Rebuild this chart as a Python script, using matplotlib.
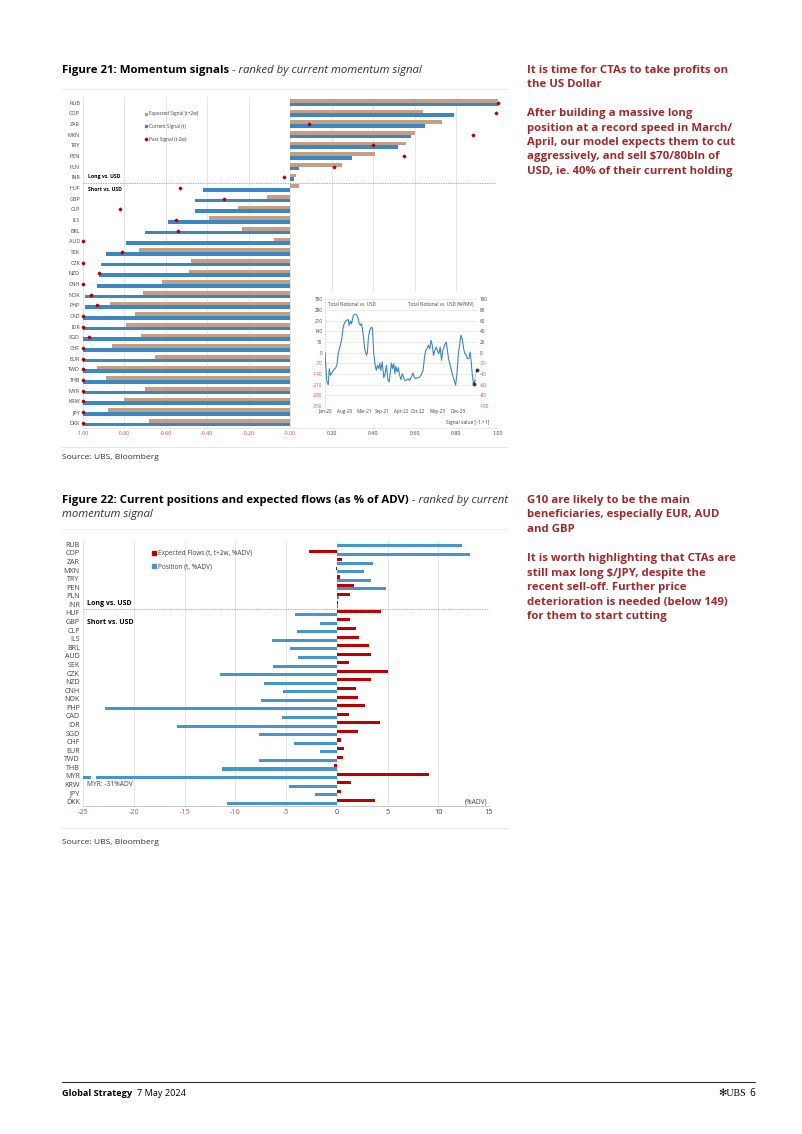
import numpy as np
import pandas as pd
import matplotlib
matplotlib.use("Agg")
import matplotlib.pyplot as plt
from matplotlib.lines import Line2D

plt.rcParams['font.family'] = ['Open Sans', 'DejaVu Sans']

W, H = 802, 1134

# ---------------- data ----------------
currencies = ['RUB', 'COP', 'ZAR', 'MXN', 'TRY', 'PEN', 'PLN', 'INR', 'HUF', 'GBP', 'CLP', 'ILS',
              'BRL', 'AUD', 'SEK', 'CZK', 'NZD', 'CNH', 'NOK', 'PHP', 'CAD', 'IDR', 'SGD', 'CHF',
              'EUR', 'TWD', 'THB', 'MYR', 'KRW', 'JPY', 'DKK']

# Figure 21: momentum signals
expected_signal = [1.00, 0.64, 0.73, 0.60, 0.56, 0.41, 0.25, 0.03, 0.04, -0.11, -0.25, -0.39,
                   -0.23, -0.08, -0.73, -0.48, -0.49, -0.62, -0.71, -0.87, -0.75, -0.79, -0.72, -0.86,
                   -0.65, -0.93, -0.89, -0.70, -0.80, -0.88, -0.68]
current_signal = [1.00, 0.79, 0.65, 0.58, 0.52, 0.30, 0.04, 0.02, -0.42, -0.46, -0.46, -0.59,
                  -0.70, -0.79, -0.89, -0.91, -0.92, -0.93, -0.99, -0.99, -1.00, -1.00, -1.00, -1.00,
                  -1.00, -1.00, -1.00, -1.00, -1.00, -1.00, -1.00]
past_signal = [1.00, 0.99, 0.09, 0.88, 0.40, 0.55, 0.21, -0.03, -0.53, -0.32, -0.82, -0.55,
               -0.54, -1.00, -0.81, -1.00, -0.92, -1.00, -0.96, -0.93, -1.00, -1.00, -0.97, -1.00,
               -1.00, -1.00, -1.00, -1.00, -1.00, -1.00, -1.00]

# inset: total notional vs USD
notional_dates = ['2020-01-01', '2020-01-19', '2020-02-05', '2020-02-16', '2020-03-01', '2020-03-30',
                  '2020-04-27', '2020-05-11', '2020-05-22', '2020-06-09', '2020-06-27', '2020-07-15',
                  '2020-08-02', '2020-08-20', '2020-09-07', '2020-09-18', '2020-10-02', '2020-10-13',
                  '2020-11-01', '2020-11-19', '2020-12-07', '2020-12-24', '2021-01-04', '2021-01-18',
                  '2021-01-29', '2021-02-16', '2021-03-04', '2021-03-22', '2021-04-02', '2021-04-13',
                  '2021-04-27', '2021-05-15', '2021-05-26', '2021-06-09', '2021-06-27', '2021-07-08',
                  '2021-07-18', '2021-08-02', '2021-08-13', '2021-08-24', '2021-09-08', '2021-09-25',
                  '2021-10-09', '2021-10-24', '2021-11-08', '2021-11-22', '2021-12-02', '2021-12-17',
                  '2021-12-28', '2022-01-11', '2022-01-22', '2022-02-02', '2022-02-16', '2022-03-01',
                  '2022-03-15', '2022-03-29', '2022-04-13', '2022-04-27', '2022-05-11', '2022-05-25',
                  '2022-06-13', '2022-07-01', '2022-07-19', '2022-08-06', '2022-08-20', '2022-09-04',
                  '2022-09-18', '2022-10-09', '2022-10-24', '2022-11-08', '2022-11-22', '2022-12-06',
                  '2022-12-20', '2023-01-04', '2023-01-18', '2023-02-02', '2023-02-16', '2023-03-01',
                  '2023-03-15', '2023-03-29', '2023-04-13', '2023-04-27', '2023-05-11', '2023-05-25',
                  '2023-06-09', '2023-06-23', '2023-07-11', '2023-07-29', '2023-08-09', '2023-08-23',
                  '2023-09-11', '2023-10-02', '2023-10-24', '2023-11-08', '2023-11-22', '2023-12-06',
                  '2023-12-20', '2024-01-04', '2024-01-18', '2024-02-02', '2024-02-16', '2024-03-01',
                  '2024-03-15', '2024-03-29', '2024-04-12', '2024-04-23', '2024-05-04', '2024-05-18',
                  '2024-05-29', '2024-06-09']
notional_usd = [0, -182, -210, -105, -149, -116, -98, -72, -7, 37, 81, 168,
                201, 212, 217, 179, 208, 190, 245, 252, 247, 223, 190, 179,
                190, 114, 26, -18, 4, 103, 147, 168, 157, -7, -94, -116,
                -83, -105, -68, -116, -61, -164, -138, -83, -177, -192, -138, -68,
                -105, -72, -138, -90, -127, -98, -149, -177, -138, -164, -182, -182,
                -171, -182, -160, -133, -164, -171, -164, -164, -155, -138, -116, -39,
                15, 26, 48, 26, 81, 48, -18, 15, 37, 11, -7, 37,
                -50, 15, 48, 70, 26, -39, -83, -138, -182, -214, -138, -18,
                48, 114, 92, 26, -7, -18, -39, -39, 4, -50, -138, -208,
                -192, -182]
proj_dates = ['2024-05-20', '2024-06-22']
proj_usd = [-205, -116]
inset_ticks = ['2020-01-01', '2020-08-01', '2021-03-01', '2021-09-01', '2022-04-01',
               '2022-10-01', '2023-05-01', '2023-12-01']
inset_tick_labels = ['Jan-20', 'Aug-20', 'Mar-21', 'Sep-21', 'Apr-22', 'Oct-22', 'May-23', 'Dec-23']

# Figure 22: positions and expected flows (% ADV)
expected_flows = [0.0, -2.7, 0.5, -0.1, 0.3, 1.7, 1.3, 0.1, 4.4, 1.3, 1.9, 2.2, 3.2, 3.4, 1.2, 5.0,
                  3.4, 1.9, 2.1, 2.8, 1.2, 4.3, 2.1, 0.4, 0.7, 0.6, -0.3, 9.1, 1.4, 0.4, 3.8]
position = [12.3, 13.1, 3.6, 2.7, 3.4, 4.8, 0.2, 0.1, -4.1, -1.7, -3.9, -6.4, -4.6, -3.8, -6.3, -11.5,
            -7.2, -5.3, -7.5, -22.9, -5.4, -15.8, -7.7, -4.2, -1.7, -7.7, -11.3, -31.0, -4.7, -2.2, -10.8]

# ---------------- styles ----------------
TAN = '#c49f83'
BLUE = '#3a87c6'
BLUE2 = '#4596cf'
RED = '#c00000'
NEG = '#e0474c'
TXT = '#404040'
GRID = '#dcdcdc'
DARKRED = '#a3282c'


def box(l, t, r, b):
    return [l / W, 1 - b / H, (r - l) / W, (b - t) / H]


def fy(y):
    return 1 - y / H


def color_ticks(labels, values):
    for lbl, v in zip(labels, values):
        lbl.set_color(NEG if v < 0 else TXT)


fig = plt.figure(figsize=(W / 100, H / 100), dpi=100)
fig.patch.set_facecolor('white')
renderer = fig.canvas.get_renderer()


def text_after(first, gap_px, s, **kw):
    # put a second text right after the first one on the same line
    bb = first.get_window_extent(renderer)
    return fig.text((bb.x1 + gap_px) / W, first.get_position()[1], s, **kw)


n = len(currencies)
y = np.arange(n)

# ---------------- Figure 21 ----------------
t21 = fig.text(62 / W, fy(71), 'Figure 21: Momentum signals', fontsize=8.2, weight='bold',
               va='center')
text_after(t21, 3, '- ranked by current momentum signal', fontsize=8.2, style='italic',
           color='#333333', va='center')
fig.add_artist(Line2D([62 / W, 507 / W], [fy(89), fy(89)], color='#e6e6e6', lw=0.6))

ax = fig.add_axes(box(82.7, 97.3, 497.7, 428))
ax.barh(y - 0.17, expected_signal, height=0.34, color=TAN, zorder=2)
ax.barh(y + 0.17, current_signal, height=0.34, color=BLUE, zorder=2)
ax.plot(past_signal, y, 'D', color='#b00000', ms=1.4, ls='none', clip_on=False, zorder=4)
ax.set_xlim(-1, 1)
ax.set_ylim(n - 0.5, -0.5)
xt = np.arange(-1.0, 1.01, 0.2)
ax.set_xticks(xt)
ax.set_xticklabels(['{:.2f}'.format(v) for v in xt], fontsize=3.9)
color_ticks(ax.get_xticklabels(), xt)
ax.set_yticks(y)
ax.set_yticklabels(currencies, fontsize=3.9, color=TXT)
ax.tick_params(length=0, pad=2)
ax.grid(axis='x', color=GRID, lw=0.5, zorder=0)
for s in ['top', 'right', 'left']:
    ax.spines[s].set_visible(False)
ax.spines['bottom'].set_color(GRID)
ax.spines['bottom'].set_linewidth(0.5)
ax.axhline(7.5, xmax=0.995, color='#8c8c8c', lw=0.5, ls=(0, (2, 1.5)), zorder=3)
ax.text(0.012, 7.5 - 0.35, 'Long vs. USD', transform=ax.get_yaxis_transform(), fontsize=3.7,
        weight='bold', va='bottom')
ax.text(0.012, 8.1, 'Short vs. USD', transform=ax.get_yaxis_transform(), fontsize=3.7,
        weight='bold', va='center')
handles = [Line2D([], [], marker='s', color=TAN, ls='none', ms=1.8),
           Line2D([], [], marker='s', color=BLUE, ls='none', ms=1.8),
           Line2D([], [], marker='D', color='#b00000', ls='none', ms=1.4)]
ax.legend(handles, ['Expected Signal (t+2w)', 'Current Signal (t)', 'Past Signal (t-2w)'],
          loc='upper left', bbox_to_anchor=(0.14, 0.97), frameon=False, fontsize=3.4,
          handlelength=0.6, handletextpad=0.3, labelspacing=1.6, labelcolor=TXT)

# inset panel
bg = fig.add_axes(box(297, 292, 495, 428))
bg.set_facecolor('white')
bg.set_xticks([])
bg.set_yticks([])
for s in bg.spines.values():
    s.set_visible(False)
bg.text(0.97, 0.04, 'Signal value [-1,+1]', transform=bg.transAxes, fontsize=3.6, color=TXT,
        ha='right', va='center')

axi = fig.add_axes(box(325, 299.3, 477, 406))
axi.plot(pd.to_datetime(notional_dates), notional_usd, color=BLUE, lw=0.8, zorder=3)
axi.plot(pd.to_datetime(proj_dates), proj_usd, color='#1f3864', lw=0.6, ls=':', marker='o',
         ms=1.8, zorder=4, clip_on=False)
axi.set_xlim(pd.Timestamp('2020-01-01'), pd.Timestamp('2024-06-25'))
axi.set_ylim(-350, 350)
yt = np.arange(-350, 351, 70)
axi.set_yticks(yt)
axi.set_yticklabels([str(v) for v in yt], fontsize=3.3)
color_ticks(axi.get_yticklabels(), yt)
axi.set_xticks(pd.to_datetime(inset_ticks))
axi.set_xticklabels(inset_tick_labels, fontsize=3.3, color=TXT)
axi.tick_params(length=0, pad=2)
axi.grid(axis='y', color=GRID, lw=0.4, zorder=0)
for s in axi.spines.values():
    s.set_visible(False)
axi.spines['left'].set_visible(True)
axi.spines['left'].set_color(GRID)
axi.spines['left'].set_linewidth(0.5)
axi.text(0.02, 0.955, 'Total Notional vs. USD', transform=axi.transAxes, fontsize=3.3,
         color=TXT, va='center')
axi.text(0.98, 0.955, 'Total Notional vs. USD (%PMV)', transform=axi.transAxes, fontsize=3.3,
         color=TXT, va='center', ha='right')
axr = axi.twinx()
axr.set_ylim(-100, 100)
rt = np.arange(-100, 101, 20)
axr.set_yticks(rt)
axr.set_yticklabels([str(v) for v in rt], fontsize=3.3)
color_ticks(axr.get_yticklabels(), rt)
axr.tick_params(length=0, pad=2)
for s in axr.spines.values():
    s.set_visible(False)

fig.add_artist(Line2D([62 / W, 507 / W], [fy(447), fy(447)], color='#e0e0e0', lw=0.6))
fig.text(62 / W, fy(458), 'Source: UBS, Bloomberg', fontsize=6.1, color='#333333', va='center')

# ---------------- Figure 22 ----------------
t22 = fig.text(62 / W, fy(500.5), 'Figure 22: Current positions and expected flows (as % of ADV)',
               fontsize=8.2, weight='bold', va='center')
text_after(t22, 3, '- ranked by current', fontsize=8.2, style='italic', color='#333333',
           va='center')
fig.text(62 / W, fy(515), 'momentum signal', fontsize=8.2, style='italic',
         color='#333333', va='center')
fig.add_artist(Line2D([62 / W, 507 / W], [fy(529), fy(529)], color='#ececec', lw=0.6))

ax2 = fig.add_axes(box(83.3, 540, 489, 806))
ax2.barh(y - 0.19, expected_flows, height=0.36, color=RED, zorder=2)
ax2.barh(y + 0.19, position, height=0.36, color=BLUE2, zorder=2)
myr = currencies.index('MYR')
ax2.barh(myr + 0.19, 0.45, left=-24.2, height=0.6, color='white', zorder=3)
ax2.set_xlim(-25, 15)
ax2.set_ylim(n - 0.5, -0.5)
xt2 = np.arange(-25, 16, 5)
ax2.set_xticks(xt2)
ax2.set_xticklabels([str(v) for v in xt2], fontsize=5.2)
color_ticks(ax2.get_xticklabels(), xt2)
ax2.set_yticks(y)
ax2.set_yticklabels(currencies, fontsize=5.1, color=TXT)
ax2.tick_params(length=0, pad=2.5)
ax2.grid(axis='x', color=GRID, lw=0.5, zorder=0)
for s in ['top', 'right', 'left']:
    ax2.spines[s].set_visible(False)
ax2.spines['bottom'].set_color('#bfbfbf')
ax2.spines['bottom'].set_linewidth(0.6)
ax2.axhline(7.5, color='#8c8c8c', lw=0.5, ls=(0, (2, 1.5)), zorder=3)
ax2.text(0.01, 6.9, 'Long vs. USD', transform=ax2.get_yaxis_transform(), fontsize=5,
         weight='bold', va='center')
ax2.text(0.01, 9.1, 'Short vs. USD', transform=ax2.get_yaxis_transform(), fontsize=5,
         weight='bold', va='center')
ax2.text(0.01, myr + 0.95, 'MYR: -31%ADV', transform=ax2.get_yaxis_transform(), fontsize=4.8,
         color=TXT, va='center')
ax2.text(0.995, n - 1, '(%ADV)', transform=ax2.get_yaxis_transform(), fontsize=4.8,
         color=TXT, va='center', ha='right')
handles2 = [Line2D([], [], marker='s', color=RED, ls='none', ms=2.2),
            Line2D([], [], marker='s', color=BLUE2, ls='none', ms=2.2)]
ax2.legend(handles2, ['Expected Flows (t, t+2w, %ADV)', 'Position (t, %ADV)'],
           loc='upper left', bbox_to_anchor=(0.155, 0.985), frameon=False, fontsize=4.7,
           handlelength=0.6, handletextpad=0.3, labelspacing=1.0, labelcolor=TXT)

fig.add_artist(Line2D([62 / W, 507 / W], [fy(828), fy(828)], color='#e0e0e0', lw=0.6))
fig.text(62 / W, fy(843), 'Source: UBS, Bloomberg', fontsize=6.1, color='#333333', va='center')

# ---------------- side comments ----------------
side1 = ['It is time for CTAs to take profits on', 'the US Dollar', '',
         'After building a massive long', 'position at a record speed in March/',
         'April, our model expects them to cut', 'aggressively, and sell $70/80bln of',
         'USD, ie. 40% of their current holding']
for i, line in enumerate(side1):
    fig.text(527 / W, fy(70 + i * 14.5), line, fontsize=8.2, weight='bold', color=DARKRED,
             va='center')

side2 = ['G10 are likely to be the main', 'beneficiaries, especially EUR, AUD', 'and GBP', '',
         'It is worth highlighting that CTAs are', 'still max long $/JPY, despite the',
         'recent sell-off. Further price', 'deterioration is needed (below 149)',
         'for them to start cutting']
for i, line in enumerate(side2):
    fig.text(527 / W, fy(500 + i * 14.6), line, fontsize=8.2, weight='bold', color=DARKRED,
             va='center')

# ---------------- footer ----------------
fig.add_artist(Line2D([62 / W, 755 / W], [fy(1082), fy(1082)], color='#333333', lw=0.8))
tf = fig.text(62 / W, fy(1093), 'Global Strategy', fontsize=6.6, weight='bold', va='center')
text_after(tf, 5, '7 May 2024', fontsize=6.6, va='center')
fig.text(746 / W, fy(1093), '✻UBS', fontsize=7.2, family=['Liberation Serif', 'DejaVu Sans'],
         ha='right', va='center')
fig.text(755 / W, fy(1093), '6', fontsize=7.2, ha='right', va='center')

fig.savefig('out.png', dpi=100, facecolor='white')
